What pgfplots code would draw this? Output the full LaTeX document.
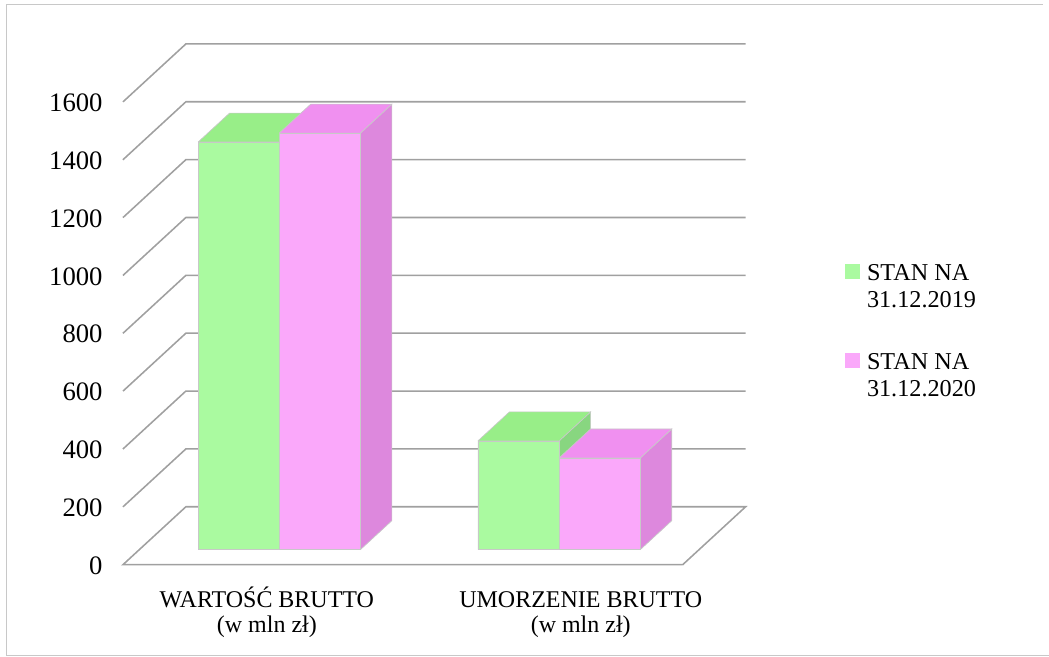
\documentclass[border=0pt]{standalone}
\usepackage{fontspec}
\setmainfont{Liberation Serif}
\usepackage{pgfplots}
\pgfplotsset{compat=1.18}
\definecolor{gF}{RGB}{170,250,160}
\definecolor{gT}{RGB}{152,238,136}
\definecolor{gS}{RGB}{136,214,128}
\definecolor{pF}{RGB}{250,168,250}
\definecolor{pT}{RGB}{240,144,240}
\definecolor{pS}{RGB}{221,136,221}
\definecolor{gridc}{RGB}{160,160,160}
\definecolor{edgec}{RGB}{200,200,200}
\definecolor{framec}{RGB}{200,200,200}
\tikzset{ticklab/.style={anchor=base east, xshift=-9pt, yshift=-4.3pt, inner sep=0pt, font=\fontsize{12}{14}\selectfont}}
% cuboid: x0, x1, value, front, top, side
\newcommand{\cuboid}[6]{%
  \addplot3[fill=#6, draw=edgec, line width=0.3pt] coordinates {(#2,0.26,0) (#2,0.76,0) (#2,0.76,#3) (#2,0.26,#3) (#2,0.26,0)};
  \addplot3[fill=#5, draw=edgec, line width=0.3pt] coordinates {(#1,0.26,#3) (#2,0.26,#3) (#2,0.76,#3) (#1,0.76,#3) (#1,0.26,#3)};
  \addplot3[fill=#4, draw=edgec, line width=0.3pt] coordinates {(#1,0.26,0) (#2,0.26,0) (#2,0.26,#3) (#1,0.26,#3) (#1,0.26,0)};
}
\begin{document}
\begin{tikzpicture}
\begin{axis}[
  x={(126pt,0pt)}, y={(28.35pt,26.1pt)}, z={(0pt,0.13023pt)},
  xmin=0, xmax=2, ymin=0, ymax=1, zmin=0, zmax=1600,
  hide axis, clip=false,
]
% floor
\addplot3[gridc, line width=0.7pt] coordinates {(2,0,0) (0,0,0) (0,1,0) (2,1,0) (2,0,0)};
% left wall diagonals and back wall lines
\addplot3[gridc, line width=0.7pt] coordinates {(0,0,200) (0,1,200) (2,1,200)};
\addplot3[gridc, line width=0.7pt] coordinates {(0,0,400) (0,1,400) (2,1,400)};
\addplot3[gridc, line width=0.7pt] coordinates {(0,0,600) (0,1,600) (2,1,600)};
\addplot3[gridc, line width=0.7pt] coordinates {(0,0,800) (0,1,800) (2,1,800)};
\addplot3[gridc, line width=0.7pt] coordinates {(0,0,1000) (0,1,1000) (2,1,1000)};
\addplot3[gridc, line width=0.7pt] coordinates {(0,0,1200) (0,1,1200) (2,1,1200)};
\addplot3[gridc, line width=0.7pt] coordinates {(0,0,1400) (0,1,1400) (2,1,1400)};
\addplot3[gridc, line width=0.7pt] coordinates {(0,0,1600) (0,1,1600) (2,1,1600)};
% bars
\cuboid{0.21}{0.50}{1409}{gF}{gT}{gS}
\cuboid{0.50}{0.79}{1440}{pF}{pT}{pS}
\cuboid{1.21}{1.50}{376}{gF}{gT}{gS}
\cuboid{1.50}{1.79}{317}{pF}{pT}{pS}
% tick labels
\node[ticklab] at (axis cs:0,0,0) {0};
\node[ticklab] at (axis cs:0,0,200) {200};
\node[ticklab] at (axis cs:0,0,400) {400};
\node[ticklab] at (axis cs:0,0,600) {600};
\node[ticklab] at (axis cs:0,0,800) {800};
\node[ticklab] at (axis cs:0,0,1000) {1000};
\node[ticklab] at (axis cs:0,0,1200) {1200};
\node[ticklab] at (axis cs:0,0,1400) {1400};
\node[ticklab] at (axis cs:0,0,1600) {1600};
\coordinate (O) at (axis cs:0,0,0);
\end{axis}
\begin{scope}[shift={(O)}, x=0.45pt, y=-0.45pt, shift={(-123,-565)}]
  \path (0,0) rectangle (1049,657);
  \draw[framec, line width=0.45pt] (1043,5) -- (7,5) -- (7,656) -- (1049,656);
  \node[anchor=base, align=center, inner sep=0pt, font=\fontsize{10.8}{11.25}\selectfont] at (267,633) {WARTOŚĆ BRUTTO\\(w mln zł)};
  \node[anchor=base, align=center, inner sep=0pt, font=\fontsize{10.8}{11.25}\selectfont] at (581,633) {UMORZENIE BRUTTO\\(w mln zł)};
  \fill[gF] (845,264) rectangle (860,279);
  \fill[pF] (845,353) rectangle (860,368);
  \node[anchor=base west, align=left, inner sep=0pt, font=\fontsize{10.9}{12.15}\selectfont] at (867,308) {STAN NA\\31.12.2019};
  \node[anchor=base west, align=left, inner sep=0pt, font=\fontsize{10.9}{12.15}\selectfont] at (867,397) {STAN NA\\31.12.2020};
\end{scope}
\end{tikzpicture}
\end{document}
